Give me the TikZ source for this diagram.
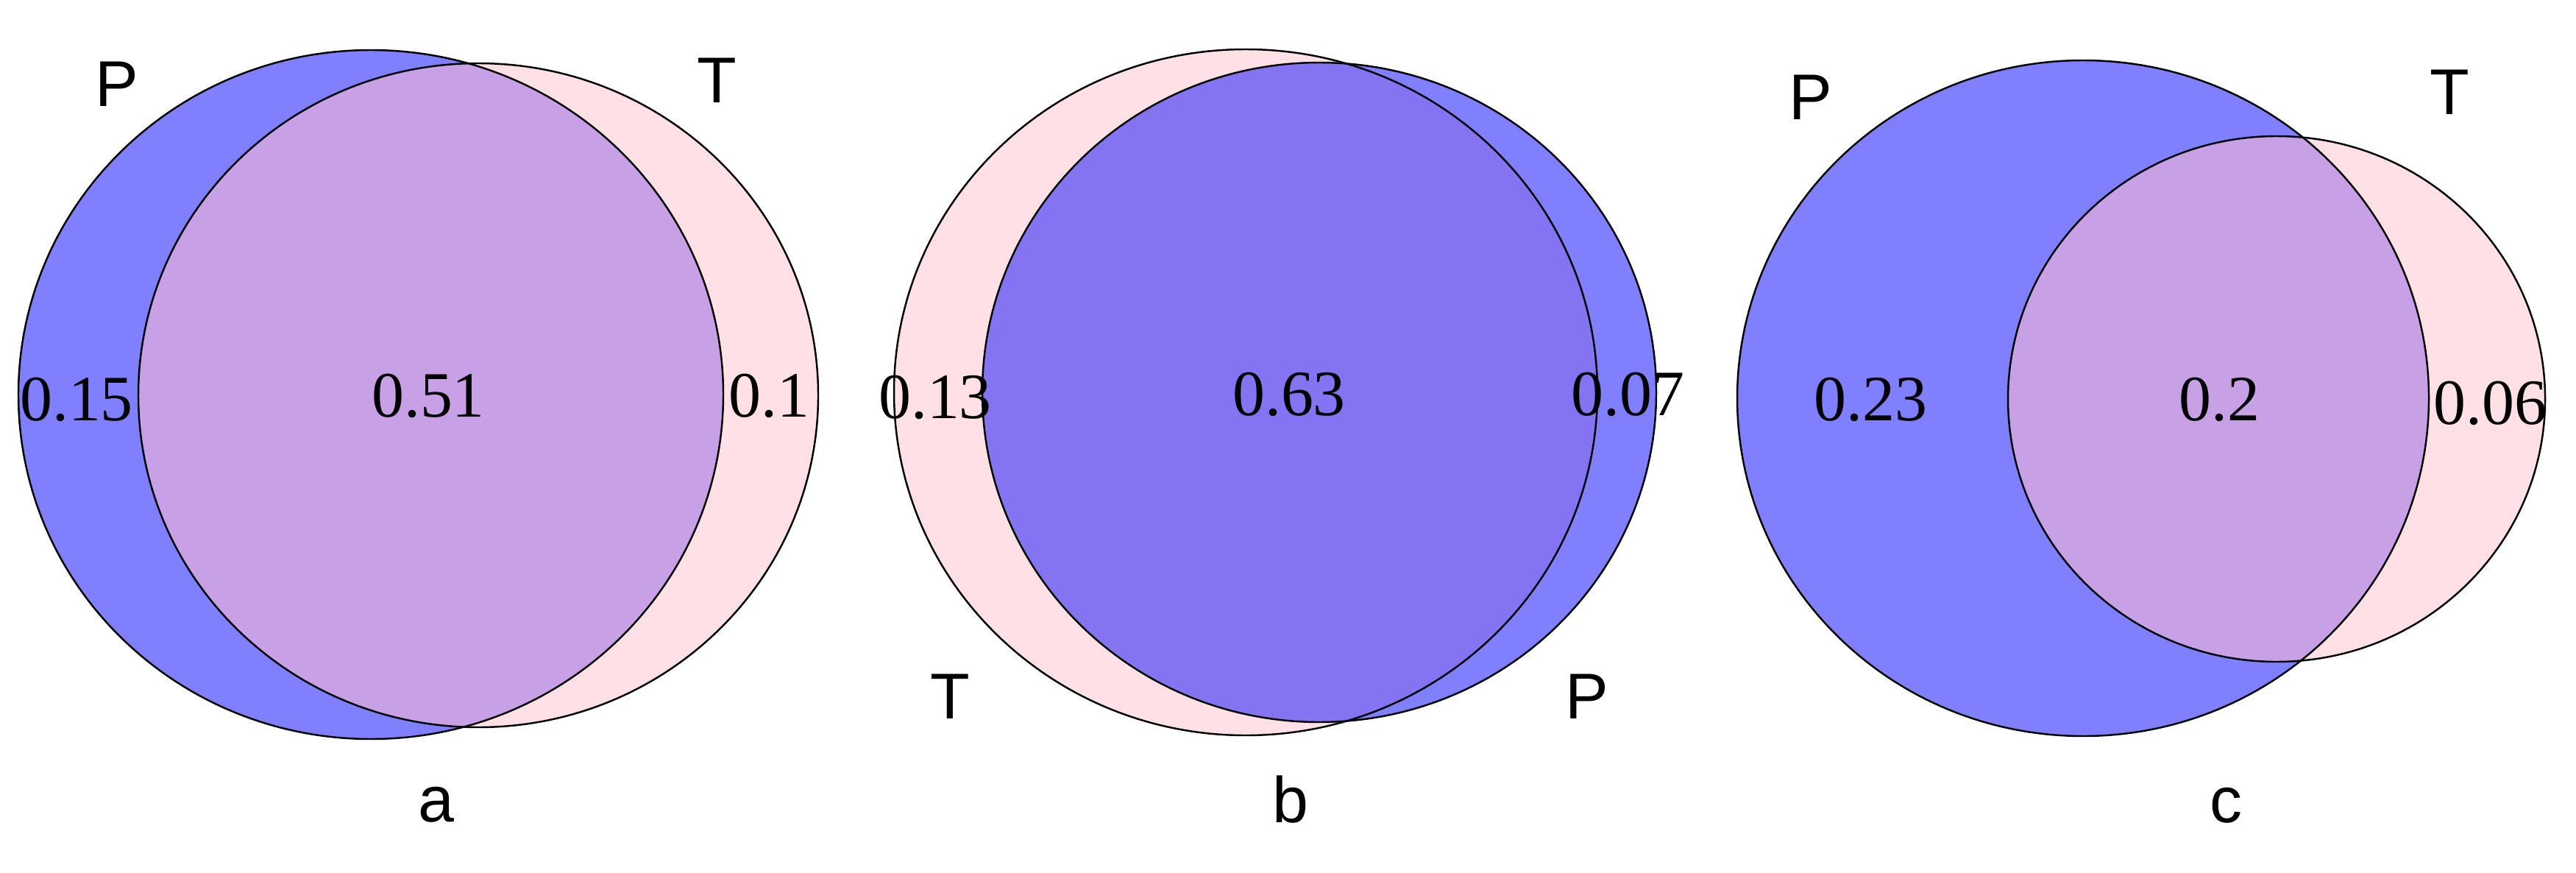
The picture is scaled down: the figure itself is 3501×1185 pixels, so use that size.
\documentclass[tikz,border=0pt]{standalone}
\usepackage{fontspec}
\setmainfont{Liberation Serif}
\setsansfont{Liberation Sans}
\definecolor{blueP}{HTML}{8080FF}
\definecolor{pinkT}{HTML}{FFE0E6}
\definecolor{ovA}{HTML}{C8A0E6}
\definecolor{ovB}{HTML}{8474F2}
\tikzset{
  outline/.style={draw=black, line width=0.7pt},
  num/.style={inner sep=0pt, font=\fontsize{25}{30}\selectfont\rmfamily},
  lab/.style={inner sep=0pt, font=\fontsize{25}{30}\selectfont\sffamily},
}
\begin{document}
\begin{tikzpicture}[x=0.01cm, y=-0.01cm]
\useasboundingbox[fill=white] (0,0) rectangle (3501,1185);

% ---------- panel a ----------
\fill[blueP] (504,536) ellipse [x radius=479, y radius=468];
\fill[pinkT] (650,537) ellipse [x radius=462, y radius=451];
\begin{scope}
  \clip (504,536) ellipse [x radius=479, y radius=468];
  \fill[ovA] (650,537) ellipse [x radius=462, y radius=451];
\end{scope}
\draw[outline] (504,536) ellipse [x radius=479, y radius=468];
\draw[outline] (650,537) ellipse [x radius=462, y radius=451];
\node[lab] (aP) at (159,114) {P};
\node[lab] (aT) at (974,109) {T};
\node[num] (aL) at (104,543) {0.15};
\node[num] (aM) at (582,538) {0.51};
\node[num] (aR) at (1045,538) {0.1};
\node[lab] (aN) at (593,1093) {a};

% ---------- panel b ----------
\fill[pinkT] (1693,533) ellipse [x radius=478, y radius=466];
\fill[blueP] (1793,533) ellipse [x radius=458, y radius=448];
\begin{scope}
  \clip (1693,533) ellipse [x radius=478, y radius=466];
  \fill[ovB] (1793,533) ellipse [x radius=458, y radius=448];
\end{scope}
\draw[outline] (1693,533) ellipse [x radius=478, y radius=466];
\draw[outline] (1793,533) ellipse [x radius=458, y radius=448];
\node[lab] (bT) at (1291,946) {T};
\node[lab] (bP) at (2157,946) {P};
\node[num] (bL) at (1271,540) {0.13};
\node[num] (bM) at (1752,536) {0.63};
\node[num] (bR) at (2212,536) {0.07};
\node[lab] (bN) at (1754,1086) {b};

% ---------- panel c ----------
\fill[blueP] (2831,541) ellipse [x radius=470, y radius=459];
\fill[pinkT] (3094,542) ellipse [x radius=365, y radius=357];
\begin{scope}
  \clip (2831,541) ellipse [x radius=470, y radius=459];
  \fill[ovA] (3094,542) ellipse [x radius=365, y radius=357];
\end{scope}
\draw[outline] (2831,541) ellipse [x radius=470, y radius=459];
\draw[outline] (3094,542) ellipse [x radius=365, y radius=357];
\node[lab] (cP) at (2461,132) {P};
\node[lab] (cT) at (3329,125) {T};
\node[num] (cL) at (2542,543) {0.23};
\node[num] (cM) at (3016,543) {0.2};
\node[num] (cR) at (3384,548) {0.06};
\node[lab] (cN) at (3025,1094) {c};
\end{tikzpicture}
\end{document}
